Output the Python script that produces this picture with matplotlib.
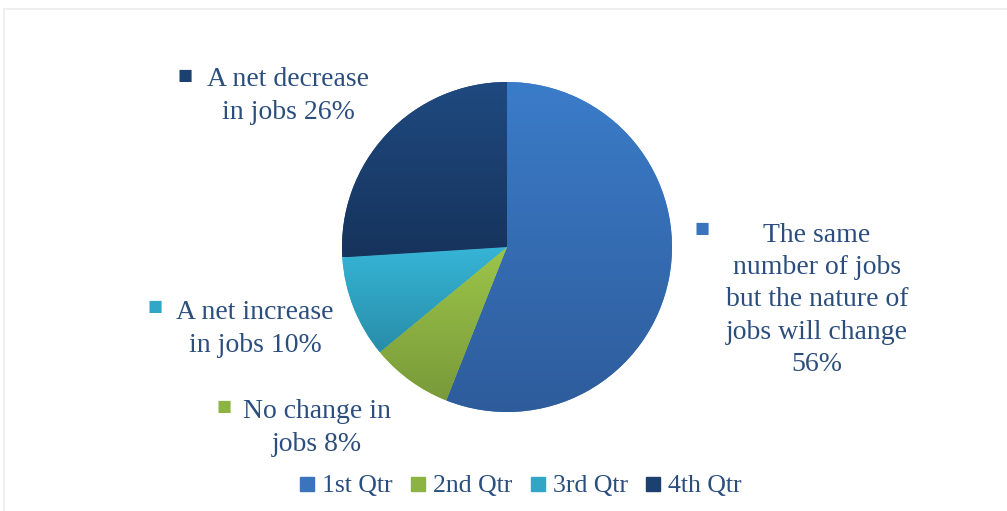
import numpy as np
import matplotlib
matplotlib.use('Agg')
import matplotlib.pyplot as plt
from matplotlib.colors import LinearSegmentedColormap
from matplotlib.lines import Line2D

# chart data
series = ['1st Qtr', '2nd Qtr', '3rd Qtr', '4th Qtr']
shares = [56, 8, 10, 26]
labels = ['The same\nnumber of jobs\nbut the nature of\njobs will change\n56%',
          'No change in\njobs 8%',
          'A net increase\nin jobs 10%',
          'A net decrease\nin jobs 26%']

# gradient colours per slice (top, bottom)
grad = [('#3b7cc9', '#2e5c9b'),
        ('#9dc54a', '#799a39'),
        ('#36b5d7', '#288da8'),
        ('#1f4a80', '#16335c')]
key_col = ['#3a74bd', '#8db443', '#31a6c6', '#1c4171']
txt_col = '#2b4e7e'

plt.rcParams['font.family'] = ['Liberation Serif', 'DejaVu Sans']

W, H = 1007, 511
fig = plt.figure(figsize=(W / 100, H / 100), dpi=100)

# pie axes: centre (507, 247) px, radius 165 px
cx, cy, r = 507, 247, 165
ax = fig.add_axes([(cx - r) / W, (H - cy - r) / H, 2 * r / W, 2 * r / H])
wedges, _ = ax.pie(shares, startangle=90, counterclock=False, radius=1,
                   colors=[g[0] for g in grad])
ax.set_aspect('equal')
ax.axis('off')

# vertical gradient fill clipped to each wedge
for w, (c1, c2) in zip(wedges, grad):
    verts = w.get_patch_transform().transform(w.get_path().vertices)
    x0, x1 = verts[:, 0].min(), verts[:, 0].max()
    y0, y1 = verts[:, 1].min(), verts[:, 1].max()
    cmap = LinearSegmentedColormap.from_list('g', [c2, c1])
    g = np.linspace(0, 1, 256).reshape(-1, 1)
    im = ax.imshow(g, cmap=cmap, extent=[x0, x1, y0, y1], origin='lower',
                   aspect='auto', interpolation='bicubic', zorder=2)
    im.set_clip_path(w)
    w.set_edgecolor('none')

ax.set_xlim(-1, 1)
ax.set_ylim(-1, 1)

# data labels (block centre px, key square px)
lab_pos = [(817, 300), (317, 428), (255, 329), (288, 96)]
key_pos = [(702, 230), (224, 408), (155, 308), (185, 77)]
for txt, (tx, ty), (kx, ky), kc in zip(labels, lab_pos, key_pos, key_col):
    fig.text(tx / W, 1 - ty / H, txt, ha='center', va='center',
             fontsize=20, color=txt_col, linespacing=1.37)
    fig.text(kx / W, 1 - ky / H, '\u25a0', ha='center', va='center',
             fontsize=18, color=kc)

# legend at bottom
handles = [Line2D([], [], marker='s', linestyle='none', markersize=10,
                  markerfacecolor=c, markeredgecolor=c) for c in key_col]
fig.legend(handles, series, loc='center', bbox_to_anchor=(521 / W, 1 - 486 / H),
           ncol=4, frameon=False, fontsize=18.5, handlelength=0.55,
           handletextpad=0.3, columnspacing=0.72, labelcolor=txt_col)

# faint chart-area border (top and left)
fig.add_artist(Line2D([4 / W, 1], [1 - 9 / H, 1 - 9 / H], color='#ececec', lw=1.2))
fig.add_artist(Line2D([4 / W, 4 / W], [0, 1 - 9 / H], color='#ececec', lw=1.2))

fig.savefig('out.png', dpi=100, facecolor='white')
